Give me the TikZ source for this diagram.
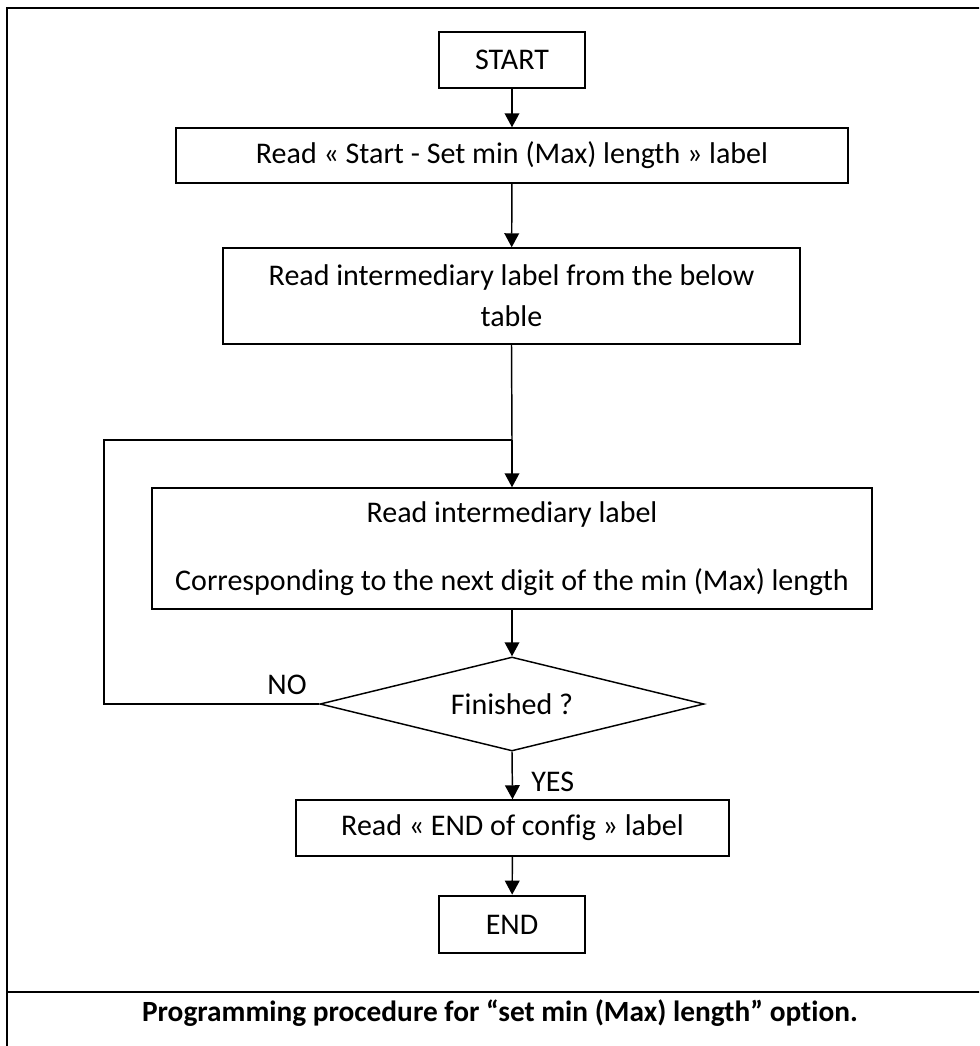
\documentclass[tikz,border=0pt]{standalone}
\usepackage{fontspec}
\setmainfont[Ligatures=NoCommon]{Carlito}
\usetikzlibrary{shapes.geometric,arrows.meta}
\begin{document}
\begin{tikzpicture}[x=0.75pt,y=-0.75pt,
  txt/.style={font=\fontsize{22.5}{27}\selectfont},
  box/.style={draw, line width=1.1pt, inner sep=0pt, align=center, txt},
  term/.style={box, line width=2pt},
  conn/.style={line width=1.1pt, -{Triangle[length=10.5pt,width=11pt]}},
  plain/.style={line width=1.1pt},
  lbl/.style={txt, inner sep=0pt},
  frame/.style={line width=1.5pt}]
\useasboundingbox (0,0) rectangle (979,1046);
\clip (0,0) rectangle (979,1046);
\fill[white] (0,0) rectangle (979,1046);
% table frame
\draw[frame] (7,1070) -- (7,8) -- (1010,8);
\draw[frame] (7,992) -- (1010,992);
% nodes
\node[term, minimum width=109.5pt, minimum height=42pt] (start) at (512,60) {START};
\node[box, minimum width=504pt, minimum height=41.25pt] (read1) at (512,155.5) {Read « Start - Set min (Max) length » label};
\node[box, minimum width=432.75pt, minimum height=72pt] (read2) at (511.5,296) {Read intermediary label from the below\\[3.5pt]table};
\node[box, minimum width=540pt, minimum height=90.75pt] (read3) at (512,548.5) {Read intermediary label\\[24.5pt]Corresponding to the next digit of the min (Max) length};
\node[draw, diamond, aspect=4, line width=1.1pt, inner sep=0pt, minimum width=288pt, minimum height=70.5pt, txt] (dec) at (512,704) {Finished ?};
\node[box, minimum width=324.75pt, minimum height=42pt] (endcfg) at (512.5,828) {Read « END of config » label};
\node[term, minimum width=109.5pt, minimum height=42.75pt] (end) at (512,924.5) {END};
\coordinate (join) at (512,440);
\coordinate (loop) at (104,440);
% connectors
\draw[conn] (start) -- (read1);
\draw[conn] (read1) -- (read2);
\draw[plain] (read2.south) -- (join);
\draw[conn] (join) -- (read3.north);
\draw[conn] (read3) -- (dec);
\draw[plain] (dec.west) -| (loop) -- (join);
\draw[conn] (dec.south) -- (endcfg.north);
\draw[conn] (endcfg) -- (end);
% labels
\node[lbl] (no) at (287,685) {NO};
\node[lbl, anchor=west] (yes) at (531,782) {YES};
\node[font=\fontsize{22}{26}\selectfont\bfseries] (cap) at (500,1013) {Programming procedure for “set min (Max) length” option.};
\end{tikzpicture}
\end{document}
